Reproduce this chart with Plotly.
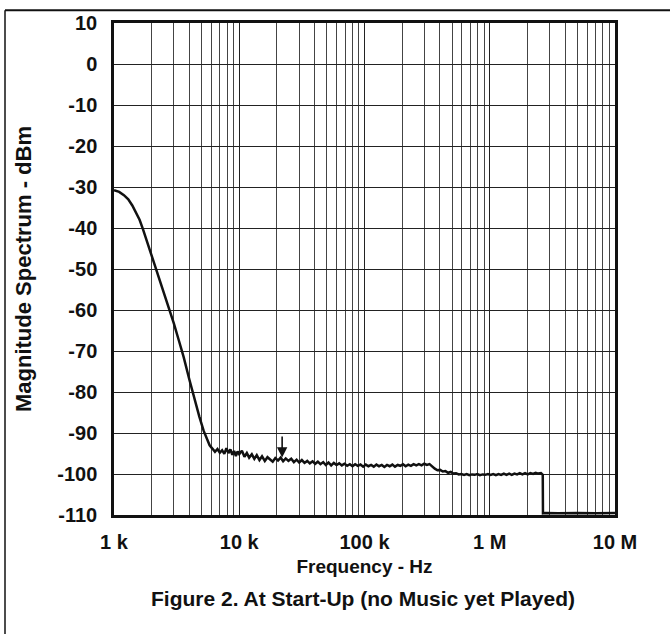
import plotly.graph_objects as go
import math

# ---- data ----
freq_hz = [
    1000, 1100, 1200, 1300, 1400, 1500, 1600, 1700, 1800, 1900, 2000, 2200, 2400, 2600, 2800,
    3000, 3300, 3600, 4000, 4400, 4800, 5200, 5500, 5800, 6100,
    6400, 6700, 7000, 7300, 7600, 7900, 8200, 8500, 8800, 9100, 9400, 9700, 10000,
    10500, 11000, 11500, 12000, 12600, 13200, 13800, 14500, 15200, 16000, 16800, 17600,
    18500, 19400, 20400, 21400, 22400, 23500, 24700, 26000, 27300, 28700, 30100, 31600,
    33200, 34900, 36600, 38500, 40400, 42400, 44500, 46800, 49100, 51600, 54200, 56900,
    59800, 62800, 65900, 69200, 72700, 76400, 80200, 84200, 88400, 92900, 97500,
    102400, 107500, 112900, 118600, 124500, 130700, 137300, 144100, 151300, 158900,
    166900, 175200, 184000, 193200, 202900, 213000, 223600, 234800, 246600, 258900,
    271800, 285400, 299700, 314700, 330400, 346900, 364300, 382500, 401600, 421700,
    442800, 465000, 488200, 512600, 538200, 565200, 593400, 623100, 654200, 687000,
    721300, 757400, 795200, 835000, 876700, 920600, 966600, 1014900, 1065700, 1119000,
    1175000, 1233700, 1295400, 1360100, 1428100, 1499500, 1574500, 1653300, 1735900,
    1822700, 1913800, 2009500, 2110000, 2215500, 2326300, 2442600, 2564700, 2650000,
    2660000, 2800000, 3500000, 5000000, 7000000, 10000000,
]
magnitude_dbm = [
    -30.8, -31.2, -32.0, -33.0, -34.5, -36.2, -38.0, -40.2, -42.5, -44.8, -47.0, -50.5, -53.8, -57.0, -60.2,
    -63.2, -67.5, -71.5, -77.0, -82.0, -86.0, -89.5, -91.5, -93.0, -93.8,
    -94.6, -93.9, -94.8, -94.2, -95.1, -93.7, -94.9, -94.0, -95.3, -94.4, -95.6, -94.5, -95.2,
    -94.3, -95.8, -94.9, -96.0, -95.2, -96.3, -95.4, -96.6, -95.7, -96.8, -95.9, -96.4,
    -97.0, -96.1, -96.7, -96.0, -96.9, -96.2, -96.8, -96.3, -97.1, -96.5, -97.2, -96.6,
    -97.3, -96.8, -97.4, -96.9, -97.5, -97.0, -97.6, -97.1, -97.8, -97.2, -97.9, -97.3,
    -97.8, -97.4, -97.9, -97.5, -98.0, -97.6, -98.1, -97.6, -98.0, -97.7, -98.2,
    -97.7, -98.1, -97.8, -98.2, -97.7, -98.1, -97.8, -98.3, -97.8, -98.1,
    -97.7, -98.2, -97.8, -98.0, -97.6, -98.1, -97.7, -98.0, -97.6, -97.9,
    -97.6, -97.9, -97.5, -97.8, -97.6, -98.2, -98.7, -99.1, -99.0, -99.4,
    -99.3, -99.7, -99.5, -99.9, -99.8, -100.1, -100.0, -100.2, -100.0, -100.3,
    -100.1, -100.2, -100.0, -100.3, -100.1, -100.2, -100.0, -100.2, -100.0, -100.3,
    -100.0, -100.2, -99.9, -100.2, -99.9, -100.2, -99.9, -100.1, -99.8,
    -100.1, -99.8, -100.1, -99.8, -100.0, -99.7, -99.9, -99.8, -100.2,
    -109.6, -109.5, -109.6, -109.5, -109.6, -109.5,
]

x_tick_vals = [1e3, 1e4, 1e5, 1e6, 1e7]
x_tick_text = ["1 k", "10 k", "100 k", "1 M", "10 M"]
x_minor_vals = [m * 10 ** d for d in range(3, 7) for m in range(2, 10)]
y_tick_vals = list(range(-110, 11, 10))
y_tick_text = [str(v) for v in y_tick_vals]  # hyphen-minus as in the reference

marker_freq = 22000
marker_tip_dbm = -96.0
marker_tail_dbm = -90.5

FONT = "Liberation Sans"
W, H = 670, 634
L, R, T, B = 114, 55, 16, 119

fig = go.Figure()
fig.add_trace(go.Scatter(
    x=freq_hz, y=magnitude_dbm, mode="lines",
    line=dict(color="#111111", width=2.5), showlegend=False,
))

fig.update_layout(
    width=W, height=H,
    margin=dict(l=L, r=R, t=T, b=B),
    paper_bgcolor="white", plot_bgcolor="white",
    font=dict(family=FONT, color="#111111"),
    xaxis=dict(
        type="log", range=[3, 7],
        tickvals=x_tick_vals, ticktext=x_tick_text,
        tickfont=dict(size=20, weight="bold", family=FONT),
        showgrid=True, gridcolor="#222222", gridwidth=1.2,
        minor=dict(tickvals=x_minor_vals, showgrid=True, gridcolor="#444444", gridwidth=1.2, ticks=""),
        showline=True, linecolor="#111111", linewidth=2.5, mirror=True,
        ticks="", ticklabelstandoff=7,
        zeroline=False,
        title=dict(text="Frequency - Hz", font=dict(size=19, weight="bold", family=FONT), standoff=8),
    ),
    yaxis=dict(
        range=[-110, 10], tickvals=y_tick_vals, ticktext=y_tick_text,
        tickfont=dict(size=20, weight="bold", family=FONT),
        showgrid=True, gridcolor="#222222", gridwidth=1.2,
        showline=True, linecolor="#111111", linewidth=2.5, mirror=True,
        ticks="", ticklabelstandoff=10,
        zeroline=False,
        title=dict(text="Magnitude Spectrum - dBm", font=dict(size=22, weight="bold", family=FONT), standoff=20),
    ),
)

# marker arrow at ~22 kHz
fig.add_annotation(
    x=math.log10(marker_freq), y=marker_tip_dbm, xref="x", yref="y",
    ax=math.log10(marker_freq), ay=marker_tail_dbm, axref="x", ayref="y",
    text="", showarrow=True, arrowhead=2, arrowsize=1.3, arrowwidth=1.6, arrowcolor="#111111",
)

pw, ph = W - L - R, H - T - B
def px(xp):
    return (xp - L) / pw
def py(yp):
    return (H - B - yp) / ph

# caption
fig.add_annotation(
    x=px(363), y=py(600), xref="paper", yref="paper", xanchor="center", yanchor="middle",
    text="Figure 2. At Start-Up (no Music yet Played)", showarrow=False,
    font=dict(size=21, weight="bold", family=FONT, color="#111111"),
)

# outer frame (top and left lines)
fig.add_shape(type="line", xref="paper", yref="paper", x0=px(5), x1=px(670), y0=py(3), y1=py(3),
              line=dict(color="#111111", width=2))
fig.add_shape(type="line", xref="paper", yref="paper", x0=px(5), x1=px(5), y0=py(3), y1=py(640),
              line=dict(color="#111111", width=1.5))

fig.write_html("out.html")
